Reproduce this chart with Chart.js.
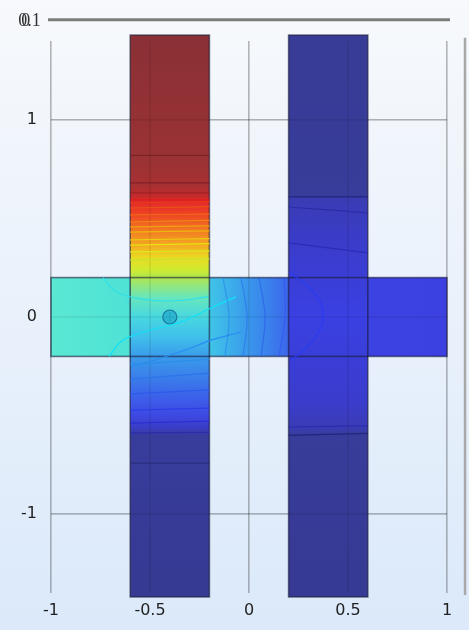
<!DOCTYPE html>
<html lang="en">
<head>
  <meta charset="UTF-8" />
  <title>Potential field</title>
  <script src="https://cdn.jsdelivr.net/npm/chart.js"></script>
  <style>
    body { margin: 0; background: #eef4fb; }
    canvas { display: block; }
  </style>
</head>
<body>
<canvas id="field" width="469" height="630"></canvas>
<script>
  // axes
  const xTicks = [-1, -0.5, 0, 0.5, 1];
  const yTicks = [-1, 0, 1];

  // geometry: horizontal bar, left bar, right bar
  const rectX0 = [-1, -0.6, 0.2];
  const rectX1 = [1, -0.2, 0.6];
  const rectY0 = [-0.2, -1.42, -1.42];
  const rectY1 = [0.2, 1.43, 1.43];

  // colours along the horizontal bar (by x)
  const hStopX = [-1, -0.6, -0.2, -0.1, 0, 0.1, 0.2, 0.6, 1];
  const hStopC = ['#5ae8d2', '#4ee2d6', '#40c4e8', '#3cb0ea', '#3a96ec', '#3a80ec', '#3c66ea', '#3c42e2', '#3c40e0'];

  // colours down the left bar (by y)
  const leftStopY = [1.43, 0.8, 0.66, 0.61, 0.59, 0.52, 0.44, 0.365, 0.3, 0.24, 0.2, 0.1, 0, -0.1, -0.2, -0.3, -0.4, -0.5, -0.56, -0.6, -1.42];
  const leftStopC = ['#8a3036', '#9a3234', '#a83032', '#c62a2a', '#e2282a', '#ee4424', '#f27a22', '#f2a822', '#eadc22', '#d0ea30', '#b0e650',
                     '#68e6bc', '#48d8e0', '#40c0ea', '#3a9cea', '#3a80ea', '#3c62ea', '#3e48e2', '#3a3cc6', '#383c9c', '#363a92'];

  // colours down the right bar (by y)
  const rightStopY = [1.43, 0.62, 0.6, 0.4, 0.2, 0, -0.2, -0.45, -0.56, -0.6, -1.42];
  const rightStopC = ['#383c96', '#383c9a', '#3a3cb4', '#3a3cc8', '#3a3ed6', '#3a40e2', '#3a3ed8', '#3a3cca', '#3a3cb4', '#383c9a', '#363a94'];

  // contour lines across the left bar: y at x=-0.6 and at x=-0.2
  const leftLineYa = [0.82, 0.68, 0.63, 0.594, 0.579, 0.553, 0.518, 0.482, 0.457, 0.431, 0.391, 0.365, 0.33, 0.29,
                      -0.24, -0.315, -0.39, -0.472, -0.538, -0.589, -0.741];
  const leftLineYb = [0.82, 0.68, 0.63, 0.594, 0.585, 0.56, 0.522, 0.49, 0.462, 0.437, 0.398, 0.372, 0.335, 0.295,
                      -0.215, -0.285, -0.37, -0.462, -0.528, -0.585, -0.741];
  const leftLineC = ['rgba(110,30,34,0.7)', 'rgba(120,28,32,0.8)', '#a02024', '#d81c1c', '#e63a1a', '#ea5018', '#ee6a16', '#ef8614', '#f0a012', '#eeb610',
                     '#eccc10', '#e8e012', '#dce81c', '#c6e430', '#2a8ee8', '#2c74ea', '#2e5aea', '#2c3ee8', '#2a30d0', '#2a2ea8', 'rgba(40,42,120,0.8)'];

  // contour lines across the right bar: y at x=0.2 and at x=0.6
  const rightLineYa = [0.609, 0.558, 0.376, -0.558, -0.6];
  const rightLineYb = [0.609, 0.528, 0.325, -0.552, -0.59];
  const rightLineC = ['#23267a', '#2a2ca8', '#2a2cb8', '#2a2cb0', '#23267a'];

  // curved contours in the horizontal bar
  const curves = [
    { x: [0.202, 0.288, 0.354, 0.374, 0.354, 0.288, 0.212], y: [0.228, 0.162, 0.086, 0.01, -0.076, -0.157, -0.218], c: '#2a3cf0' },
    { x: [-0.131, -0.101, -0.121], y: [0.2, 0, -0.2], c: 'rgba(40,130,235,0.6)' },
    { x: [-0.04, -0.01, -0.03], y: [0.2, 0, -0.2], c: 'rgba(40,110,235,0.6)' },
    { x: [0.051, 0.081, 0.061], y: [0.2, 0, -0.2], c: 'rgba(40,90,235,0.6)' },
    { x: [0.177, 0.182, 0.152], y: [0.2, 0, -0.2], c: 'rgba(50,90,240,0.75)' },
    { x: [-0.737, -0.672, -0.571, -0.394, -0.207], y: [0.2, 0.129, 0.096, 0.081, 0.102], c: '#30e0e8' },
    { x: [-0.707, -0.636, -0.495, -0.343, -0.192, -0.066], y: [-0.2, -0.117, -0.066, -0.025, 0.046, 0.102], c: '#10e0f8' },
    { x: [-0.596, -0.444, -0.293, -0.192, -0.04], y: [-0.254, -0.208, -0.157, -0.117, -0.076], c: '#2a8cf0' }
  ];

  // probe point
  const probeX = [-0.4];
  const probeY = [0];

  function lineSet(xs, ys, color) {
    return {
      data: xs.map((x, i) => ({ x: x, y: ys[i] })),
      showLine: true, borderColor: color, borderWidth: 1.2,
      pointRadius: 0, tension: 0.4
    };
  }

  const datasets = [];
  leftLineYa.forEach((v, i) => datasets.push(lineSet([-0.6, -0.2], [v, leftLineYb[i]], leftLineC[i])));
  rightLineYa.forEach((v, i) => datasets.push(lineSet([0.2, 0.6], [v, rightLineYb[i]], rightLineC[i])));
  curves.forEach(c => datasets.push(lineSet(c.x, c.y, c.c)));
  datasets.push({
    data: probeX.map((x, i) => ({ x: x, y: probeY[i] })),
    pointRadius: 7, backgroundColor: 'rgba(40,175,205,0.85)',
    borderColor: 'rgba(20,110,150,0.9)', borderWidth: 1.2
  });
  datasets.push({
    data: probeX.map((x, i) => ({ x: x, y: probeY[i] })),
    pointStyle: 'cross', pointRadius: 5, borderColor: 'rgba(20,90,130,0.9)', borderWidth: 1.2
  });

  const background = {
    id: 'background',
    beforeDraw(chart) {
      const ctx = chart.ctx;
      const g = ctx.createLinearGradient(0, 0, 0, chart.height);
      g.addColorStop(0, '#f7f9fc');
      g.addColorStop(1, '#dbe9fa');
      ctx.save();
      ctx.fillStyle = g;
      ctx.fillRect(0, 0, chart.width, chart.height);
      ctx.restore();
    }
  };

  const fieldPlot = {
    id: 'fieldPlot',
    beforeDatasetsDraw(chart) {
      const ctx = chart.ctx, xs = chart.scales.x, ys = chart.scales.y;
      const px = v => xs.getPixelForValue(v), py = v => ys.getPixelForValue(v);
      ctx.save();
      // horizontal bar
      let x0 = px(rectX0[0]), x1 = px(rectX1[0]);
      let g = ctx.createLinearGradient(x0, 0, x1, 0);
      hStopX.forEach((v, i) => g.addColorStop((v - rectX0[0]) / (rectX1[0] - rectX0[0]), hStopC[i]));
      ctx.fillStyle = g;
      ctx.fillRect(x0, py(rectY1[0]), x1 - x0, py(rectY0[0]) - py(rectY1[0]));
      // vertical bars
      [[1, leftStopY, leftStopC], [2, rightStopY, rightStopC]].forEach(([k, sy, sc]) => {
        const top = py(rectY1[k]), bot = py(rectY0[k]);
        const gv = ctx.createLinearGradient(0, top, 0, bot);
        sy.forEach((v, i) => gv.addColorStop((rectY1[k] - v) / (rectY1[k] - rectY0[k]), sc[i]));
        ctx.fillStyle = gv;
        ctx.fillRect(px(rectX0[k]), top, px(rectX1[k]) - px(rectX0[k]), bot - top);
      });
      // grid showing through
      ctx.strokeStyle = 'rgba(0,0,0,0.11)';
      ctx.lineWidth = 1.2;
      const a = chart.chartArea;
      xTicks.forEach(v => { ctx.beginPath(); ctx.moveTo(px(v), a.top); ctx.lineTo(px(v), a.bottom); ctx.stroke(); });
      yTicks.forEach(v => { ctx.beginPath(); ctx.moveTo(a.left, py(v)); ctx.lineTo(a.right, py(v)); ctx.stroke(); });
      // outlines
      ctx.strokeStyle = 'rgba(25,25,55,0.6)';
      ctx.lineWidth = 1.6;
      rectX0.forEach((v, k) => {
        ctx.strokeRect(px(v), py(rectY1[k]), px(rectX1[k]) - px(v), py(rectY0[k]) - py(rectY1[k]));
      });
      // frame pieces
      ctx.strokeStyle = '#7c7c7c';
      ctx.lineWidth = 3;
      ctx.beginPath(); ctx.moveTo(px(-1.015), py(1.508)); ctx.lineTo(px(1.015), py(1.508)); ctx.stroke();
      ctx.strokeStyle = '#a8a8a8';
      ctx.lineWidth = 2.5;
      ctx.beginPath(); ctx.moveTo(px(1.091), py(1.416)); ctx.lineTo(px(1.091), py(-1.41)); ctx.stroke();
      // overlapping corner label
      ctx.fillStyle = '#333';
      ctx.font = '18px "Liberation Serif"';
      ctx.textBaseline = 'middle';
      ctx.fillText('0.1', px(-1.165), py(1.5));
      ctx.fillText('0', px(-1.15), py(1.5));
      ctx.restore();
    }
  };

  new Chart(document.getElementById('field'), {
    type: 'scatter',
    data: { datasets: datasets },
    options: {
      responsive: false,
      animation: false,
      events: [],
      layout: { padding: { top: 41, right: 22, left: 0, bottom: 0 } },
      plugins: { legend: { display: false }, tooltip: { enabled: false } },
      scales: {
        x: {
          min: -1, max: 1,
          afterFit: s => { s.height = 37; },
          afterBuildTicks: s => { s.ticks = xTicks.map(v => ({ value: v })); },
          grid: { color: 'rgba(0,0,0,0.22)', lineWidth: 1.5, drawTicks: false },
          border: { display: false },
          ticks: { padding: 8, color: '#222', font: { family: 'DejaVu Sans', size: 16 }, callback: v => String(v) }
        },
        y: {
          min: -1.4, max: 1.4,
          afterFit: s => { s.width = 51; },
          afterBuildTicks: s => { s.ticks = yTicks.map(v => ({ value: v })); },
          grid: { color: 'rgba(0,0,0,0.22)', lineWidth: 1.5, drawTicks: false },
          border: { display: false },
          ticks: { padding: 14, color: '#222', font: { family: 'DejaVu Sans', size: 16 }, callback: v => String(v) }
        }
      }
    },
    plugins: [background, fieldPlot]
  });
</script>
</body>
</html>
